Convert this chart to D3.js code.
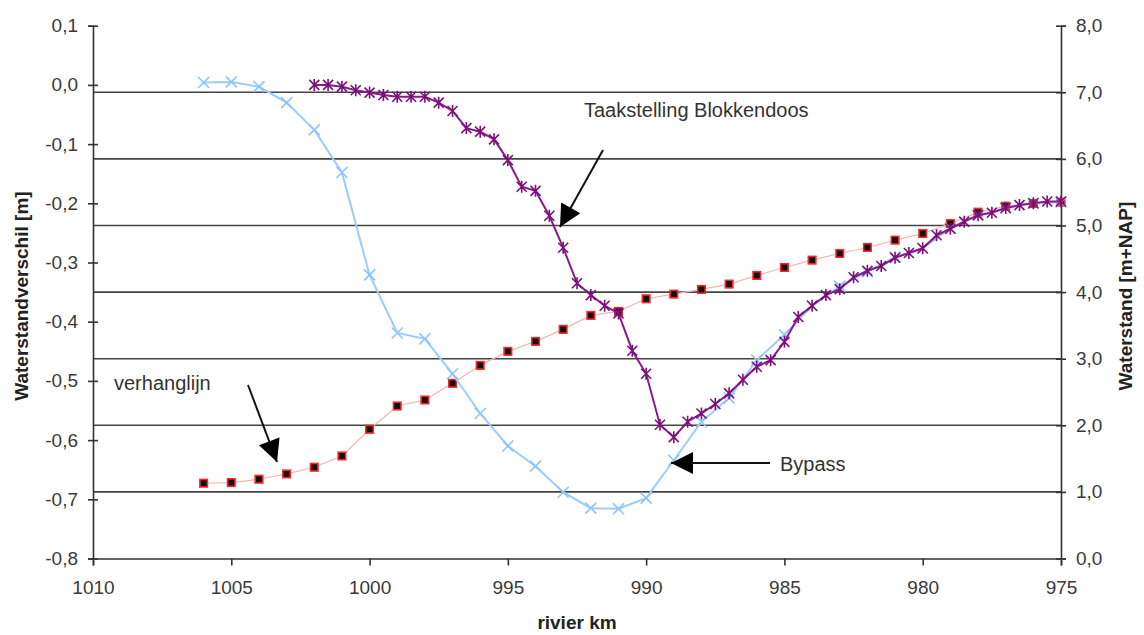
<!DOCTYPE html>
<html>
<head>
<meta charset="utf-8">
<script src="https://cdnjs.cloudflare.com/ajax/libs/d3/7.8.5/d3.min.js"></script>
<style>
    body { margin: 0; background: #fff; }
    svg text { font-family: "Liberation Sans", Arial, sans-serif; }
</style>
</head>
<body>
<div id="chart"></div>
<script>
// Bypass series (left axis), one value per km
var kmBypass = [1006, 1005, 1004, 1003, 1002, 1001, 1000, 999, 998, 997, 996, 995, 994, 993,
                992, 991, 990, 989, 988, 987, 986, 985, 984, 983, 982, 981, 980, 979, 978, 977, 976, 975];
var bypass = [0.004, 0.005, -0.003, -0.030, -0.076, -0.148, -0.321, -0.419, -0.429, -0.488, -0.555, -0.610, -0.644, -0.688,
              -0.715, -0.716, -0.698, -0.634, -0.569, -0.529, -0.465, -0.422, -0.373, -0.340, -0.316, -0.291, -0.276, -0.242, -0.220, -0.208, -0.200, -0.198];

// Taakstelling Blokkendoos series (left axis), every half km from 1002 to 975
var kmBlokken = d3.range(1002, 974.9, -0.5);
var blokken = [0.000, 0.000, -0.003, -0.009, -0.013, -0.017, -0.020, -0.020, -0.020, -0.030,
               -0.044, -0.073, -0.079, -0.092, -0.127, -0.172, -0.179, -0.221, -0.275, -0.335,
               -0.355, -0.373, -0.386, -0.449, -0.488, -0.574, -0.595, -0.569, -0.555, -0.539,
               -0.521, -0.498, -0.476, -0.465, -0.434, -0.392, -0.373, -0.355, -0.345, -0.325,
               -0.314, -0.306, -0.292, -0.284, -0.276, -0.254, -0.243, -0.231, -0.220, -0.216,
               -0.208, -0.203, -0.200, -0.197, -0.197];

// verhanglijn (right axis, m+NAP)
var kmVerhang = [1006, 1005, 1004, 1003, 1002, 1001, 1000, 999, 998, 997, 996, 995, 994, 993,
                 992, 991, 990, 989, 988, 987, 986, 985, 984, 983, 982, 981, 980, 979, 978, 977, 976, 975];
var verhang = [1.13, 1.14, 1.19, 1.27, 1.37, 1.54, 1.94, 2.29, 2.38, 2.63, 2.90, 3.11, 3.26, 3.44,
               3.65, 3.71, 3.90, 3.97, 4.04, 4.12, 4.25, 4.37, 4.48, 4.58, 4.67, 4.78, 4.88, 5.03, 5.20, 5.29, 5.33, 5.35];

var xTicks = [1010, 1005, 1000, 995, 990, 985, 980, 975];
var leftTicks = [0.1, 0.0, -0.1, -0.2, -0.3, -0.4, -0.5, -0.6, -0.7, -0.8];
var rightTicks = [0, 1, 2, 3, 4, 5, 6, 7, 8];

var width = 1144, height = 635;
var plot = { left: 93, right: 1061, top: 25.7, bottom: 558.5 };
var fmt1 = function(v) { return d3.format(".1f")(v).replace(".", ",").replace("−", "-"); };

var svg = d3.select("#chart").append("svg")
    .attr("width", width)
    .attr("height", height);

var x = d3.scaleLinear().domain([1010, 975]).range([plot.left, plot.right]);
var yL = d3.scaleLinear().domain([-0.8, 0.1]).range([plot.bottom, plot.top]);
var yR = d3.scaleLinear().domain([0, 8]).range([plot.bottom, plot.top]);

// gridlines follow the right axis
svg.append("g").selectAll("line")
    .data(rightTicks.filter(function(d) { return d > 0 && d < 8; }))
    .enter().append("line")
        .attr("x1", plot.left).attr("x2", plot.right)
        .attr("y1", function(d) { return yR(d); })
        .attr("y2", function(d) { return yR(d); })
        .attr("stroke", "#444").attr("stroke-width", 1.6);

// axes
var axisColor = "#333";
var gL = svg.append("g").attr("transform", "translate(" + plot.left + ",0)")
    .call(d3.axisLeft(yL).tickValues(leftTicks).tickFormat(fmt1).tickSize(5).tickPadding(10));
var gR = svg.append("g").attr("transform", "translate(" + plot.right + ",0)")
    .call(d3.axisRight(yR).tickValues(rightTicks).tickFormat(fmt1).tickSize(5).tickPadding(10));
var gB = svg.append("g").attr("transform", "translate(0," + plot.bottom + ")")
    .call(d3.axisBottom(x).tickValues(xTicks).tickFormat(d3.format("d")).tickSize(7).tickPadding(15));

[gL, gR, gB].forEach(function(g) {
    g.select(".domain").attr("stroke", axisColor).attr("stroke-width", 1.6);
    g.selectAll(".tick line").attr("stroke", axisColor).attr("stroke-width", 1.6);
    g.selectAll(".tick text").attr("fill", "#3a3a3a").style("font-size", "19px");
});
// crossing tick marks on the vertical axes
gL.selectAll(".tick line").attr("x1", 5).attr("x2", -5);
gR.selectAll(".tick line").attr("x1", -5).attr("x2", 5);

// axis titles
svg.append("text")
    .attr("transform", "translate(28," + ((plot.top + plot.bottom) / 2 + 4) + ") rotate(-90)")
    .attr("text-anchor", "middle")
    .style("font-size", "19px").style("font-weight", "bold").attr("fill", "#222")
    .text("Waterstandverschil [m]");
svg.append("text")
    .attr("transform", "translate(1132," + ((plot.top + plot.bottom) / 2 + 4) + ") rotate(-90)")
    .attr("text-anchor", "middle")
    .style("font-size", "19px").style("font-weight", "bold").attr("fill", "#222")
    .text("Waterstand [m+NAP]");
svg.append("text")
    .attr("x", 577).attr("y", 629)
    .attr("text-anchor", "middle")
    .style("font-size", "19px").style("font-weight", "bold").attr("fill", "#222")
    .text("rivier km");

// verhanglijn: thin pink line with black squares edged in red (drawn first, underneath)
var redData = kmVerhang.map(function(k, i) { return { km: k, v: verhang[i] }; });
svg.append("path")
    .datum(redData)
    .attr("fill", "none").attr("stroke", "#f8b4b4").attr("stroke-width", 1.2)
    .attr("d", d3.line().x(function(d) { return x(d.km); }).y(function(d) { return yR(d.v); }));
svg.append("g").selectAll("rect")
    .data(redData)
    .enter().append("rect")
        .attr("x", function(d) { return x(d.km) - 3.75; })
        .attr("y", function(d) { return yR(d.v) - 3.75; })
        .attr("width", 7.5).attr("height", 7.5)
        .attr("fill", "#111").attr("stroke", "#ff2424").attr("stroke-width", 1.6);

// Bypass: light blue line with x marks
var blueData = kmBypass.map(function(k, i) { return { km: k, v: bypass[i] }; });
svg.append("path")
    .datum(blueData)
    .attr("fill", "none").attr("stroke", "#99ccff").attr("stroke-width", 2)
    .attr("d", d3.line().x(function(d) { return x(d.km); }).y(function(d) { return yL(d.v); }));
svg.append("g").selectAll("path")
    .data(blueData)
    .enter().append("path")
        .attr("transform", function(d) { return "translate(" + x(d.km) + "," + yL(d.v) + ")"; })
        .attr("d", "M-5.5,-5.5L5.5,5.5M-5.5,5.5L5.5,-5.5")
        .attr("stroke", "#8cc4ff").attr("stroke-width", 1.6).attr("fill", "none");

// Taakstelling Blokkendoos: purple line with star marks
var purpleData = kmBlokken.map(function(k, i) { return { km: k, v: blokken[i] }; });
svg.append("path")
    .datum(purpleData)
    .attr("fill", "none").attr("stroke", "#8a1a8a").attr("stroke-width", 2)
    .attr("d", d3.line().x(function(d) { return x(d.km); }).y(function(d) { return yL(d.v); }));
svg.append("g").selectAll("path")
    .data(purpleData)
    .enter().append("path")
        .attr("transform", function(d) { return "translate(" + x(d.km) + "," + yL(d.v) + ")"; })
        .attr("d", "M-5,-5L5,5M-5,5L5,-5M0,-6L0,6")
        .attr("stroke", "#7d0f7d").attr("stroke-width", 1.6).attr("fill", "none");

// annotations with arrows
var defs = svg.append("defs");
defs.append("marker")
    .attr("id", "head")
    .attr("viewBox", "0 0 10 10")
    .attr("refX", 10).attr("refY", 5)
    .attr("markerUnits", "userSpaceOnUse")
    .attr("markerWidth", 26).attr("markerHeight", 22)
    .attr("orient", "auto")
    .append("path").attr("d", "M0,0L10,5L0,10Z").attr("fill", "#000");

function arrow(x1, y1, x2, y2) {
    svg.append("line")
        .attr("x1", x1).attr("y1", y1).attr("x2", x2).attr("y2", y2)
        .attr("stroke", "#111").attr("stroke-width", 2)
        .attr("marker-end", "url(#head)");
}
function label(txt, lx, ly) {
    svg.append("text")
        .attr("x", lx).attr("y", ly)
        .style("font-size", "20px").attr("fill", "#333")
        .text(txt);
}

label("Taakstelling Blokkendoos", 584, 117);
arrow(603, 150, 560, 227);
label("verhanglijn", 114, 390);
arrow(248, 385, 277, 462);
label("Bypass", 780, 471);
arrow(770, 463, 671, 463);
</script>
</body>
</html>
